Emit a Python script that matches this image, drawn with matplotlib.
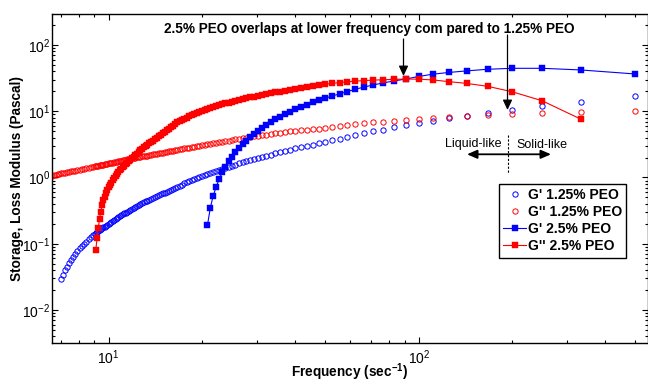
import matplotlib
matplotlib.use("Agg")
import matplotlib.pyplot as plt
from matplotlib.lines import Line2D
from matplotlib.patches import ArrowStyle

plt.rcParams['font.family'] = ['Liberation Sans', 'DejaVu Sans']
plt.rcParams['mathtext.fontset'] = 'custom'
plt.rcParams['mathtext.rm'] = 'Liberation Sans:bold'
plt.rcParams['mathtext.it'] = 'Liberation Sans:bold'
plt.rcParams['mathtext.bf'] = 'Liberation Sans:bold'
plt.rcParams['mathtext.default'] = 'bf'

# ---------------- data (frequency in 1/s, moduli in Pa) ----------------
freq = [500, 333.3, 250, 200, 166.7, 142.9, 125, 111.1, 100, 90.91,
        83.33, 76.92, 71.43, 66.67, 62.5, 58.82, 55.56, 52.63, 50, 47.62,
        45.45, 43.48, 41.67, 40, 38.46, 37.04, 35.71, 34.48, 33.33, 32.26,
        31.25, 30.3, 29.41, 28.57, 27.78, 27.03, 26.32, 25.64, 25, 24.39,
        23.81, 23.26, 22.73, 22.22, 21.74, 21.28, 20.83, 20.41, 20, 19.61,
        19.23, 18.87, 18.52, 18.18, 17.86, 17.54, 17.24, 16.95, 16.67,
        16.39, 16.13, 15.87, 15.63, 15.38, 15.15, 14.93, 14.71, 14.49, 14.29,
        14.08, 13.89, 13.70, 13.51, 13.33, 13.16, 12.99, 12.82, 12.66, 12.5,
        12.35, 12.2, 12.05, 11.9, 11.76, 11.63, 11.49, 11.36, 11.24, 11.11,
        10.99, 10.87, 10.75, 10.64, 10.53, 10.42, 10.31, 10.2, 10.10,
        10, 9.901, 9.804, 9.709, 9.615, 9.524, 9.434, 9.346, 9.259, 9.174,
        9.091, 9.009, 8.929,
        8.772, 8.621, 8.475, 8.333, 8.197, 8.065, 7.937, 7.813, 7.692, 7.576,
        7.463, 7.353, 7.246, 7.143, 7.042, 6.944, 6.849, 6.757, 6.667, 6.579,
        6.494]

# G' 1.25% PEO  (starts at freq[0])
g_store_125 = [17.0, 13.9, 11.8, 10.4, 9.35, 8.55, 7.8, 7.15, 6.6, 6.12,
               5.7, 5.3, 4.95, 4.63, 4.35, 4.08, 3.85, 3.64, 3.45, 3.28,
               3.13, 2.99, 2.87, 2.75, 2.63, 2.51, 2.41, 2.31, 2.22, 2.13,
               2.05, 1.97, 1.90, 1.83, 1.76, 1.70, 1.63, 1.57, 1.51, 1.46,
               1.41, 1.36, 1.31, 1.26, 1.22, 1.18, 1.13, 1.09, 1.05, 1.01,
               0.976, 0.943, 0.91, 0.877, 0.844, 0.812, 0.782, 0.755, 0.728,
               0.703, 0.678, 0.656, 0.634, 0.613, 0.593, 0.574, 0.556, 0.538, 0.521,
               0.505, 0.49, 0.475, 0.461, 0.448, 0.435, 0.422, 0.41, 0.396, 0.383,
               0.371, 0.359, 0.347, 0.336, 0.325, 0.315, 0.305, 0.296, 0.287, 0.279,
               0.269, 0.26, 0.252, 0.244, 0.236, 0.228, 0.221, 0.214, 0.207,
               0.20, 0.194, 0.187, 0.181, 0.176, 0.170, 0.165, 0.160, 0.155, 0.150,
               0.146, 0.140, 0.135,
               0.125, 0.117, 0.108, 0.100, 0.092, 0.085, 0.078, 0.071, 0.0635,
               0.0569, 0.0509, 0.045, 0.0398, 0.034, 0.0291]

# G'' 1.25% PEO  (starts at freq[0])
g_loss_125 = [10.2, 9.85, 9.5, 9.15, 8.85, 8.55, 8.25, 7.95, 7.7, 7.45,
              7.22, 7.0, 6.8, 6.6, 6.4, 6.2, 6.0, 5.8, 5.6, 5.47,
              5.35, 5.24, 5.14, 5.04, 4.95, 4.84, 4.73, 4.63, 4.53, 4.44,
              4.35, 4.27, 4.19, 4.09, 4.0, 3.91, 3.83, 3.75, 3.67, 3.6,
              3.53, 3.47, 3.4, 3.34, 3.28, 3.22, 3.17, 3.12, 3.07, 3.02,
              2.97, 2.92, 2.87, 2.82, 2.78, 2.74, 2.69, 2.65, 2.62,
              2.58, 2.54, 2.5, 2.47, 2.43, 2.4, 2.37, 2.34, 2.31, 2.28,
              2.25, 2.23, 2.2, 2.17, 2.14, 2.12, 2.1, 2.08, 2.05, 2.03,
              2.01, 1.99, 1.96, 1.94, 1.92, 1.90, 1.87, 1.85, 1.83, 1.81,
              1.79, 1.77, 1.75, 1.74, 1.72, 1.70, 1.68, 1.66, 1.65,
              1.63, 1.61, 1.60, 1.58, 1.57, 1.55, 1.54, 1.52, 1.51, 1.50,
              1.48, 1.47, 1.46,
              1.43, 1.41, 1.38, 1.36, 1.34, 1.32, 1.29, 1.27, 1.25, 1.24,
              1.22, 1.20, 1.18, 1.16, 1.15, 1.13, 1.12, 1.10, 1.09, 1.07,
              1.06]

# G' 2.5% PEO  (starts at freq[0])
g_store_25 = [36.5, 42.0, 44.5, 44.5, 43.0, 40.7, 38.5, 36.3, 33.5, 30.7,
              28.7, 26.8, 25.0, 23.2, 21.5, 19.8, 18.3, 17.0, 15.7, 14.6,
              13.6, 12.6, 11.7, 10.8, 9.9, 9.1, 8.3, 7.6, 6.9, 6.2,
              5.6, 5.0, 4.5, 4.05, 3.6, 3.2, 2.8, 2.4, 2.05, 1.75,
              1.45, 1.2, 0.95, 0.72, 0.53, 0.35, 0.19]

# G'' 2.5% PEO  (starts at freq[1])
g_loss_25 = [7.6, 14.4, 19.7, 23.8, 26.3, 28.0, 29.7, 30.5, 30.6, 30.3,
             29.9, 29.5, 29.0, 28.5, 27.8, 27.1, 26.35, 25.6, 24.8, 24.0,
             23.2, 22.45, 21.75, 21.1, 20.5, 19.85, 19.2, 18.6, 18.1, 17.55,
             17.1, 16.6, 16.2, 15.7, 15.2, 14.8, 14.35, 13.9, 13.5, 13.1,
             12.7, 12.3, 11.95, 11.6, 11.2, 10.85, 10.45, 10.1, 9.71, 9.34,
             9.0, 8.67, 8.36, 8.04, 7.69, 7.36, 7.06, 6.78,
             6.4, 6.04, 5.73, 5.43, 5.15, 4.88, 4.63, 4.4, 4.18, 3.97,
             3.78, 3.59, 3.44, 3.3, 3.14, 2.99, 2.84, 2.70, 2.56, 2.42,
             2.3, 2.18, 2.06, 1.95, 1.85, 1.76, 1.67, 1.59, 1.51, 1.44,
             1.36, 1.28, 1.2, 1.13, 1.06, 0.99, 0.91, 0.84, 0.78,
             0.72, 0.647, 0.58, 0.516, 0.46, 0.38, 0.30, 0.24, 0.17, 0.12,
             0.08]

labels = ["G' 1.25% PEO", "G'' 1.25% PEO", "G' 2.5% PEO", "G'' 2.5% PEO"]
annotation = "2.5% PEO overlaps at lower frequency com pared to 1.25% PEO"

# ---------------- figure ----------------
W, H = 648, 383
fig = plt.figure(figsize=(W / 100, H / 100), dpi=100)
ax = fig.add_axes([52.3 / W, 1 - 343.3 / H, (647.5 - 52.3) / W, (343.3 - 14) / H])

BLUE = '#0000ff'
RED = '#ff0000'

ax.plot(freq[:len(g_store_125)], g_store_125, linestyle='none', marker='o',
        ms=3.8, mfc='none', mec=BLUE, mew=0.7, label=labels[0])
ax.plot(freq[:len(g_loss_125)], g_loss_125, linestyle='none', marker='o',
        ms=3.8, mfc='none', mec=RED, mew=0.7, label=labels[1])
ax.plot(freq[:len(g_store_25)], g_store_25, color=BLUE, lw=0.8, marker='s',
        ms=3.9, mfc=BLUE, mec=BLUE, mew=0.3, label=labels[2])
ax.plot(freq[1:1 + len(g_loss_25)], g_loss_25, color=RED, lw=0.8, marker='s',
        ms=3.9, mfc=RED, mec=RED, mew=0.3, label=labels[3])

ax.set_xscale('log')
ax.set_yscale('log')
ax.set_xlim(10 ** 0.8184, 10 ** 2.7377)
ax.set_ylim(10 ** -2.503, 10 ** 2.468)

for sp in ax.spines.values():
    sp.set_linewidth(1.0)
ax.tick_params(which='both', direction='in', top=True, right=True, width=0.8,
               labelsize=10)
ax.tick_params(which='major', length=4.5)
ax.tick_params(which='minor', length=2.5)
ax.tick_params(axis='y', which='major', pad=1.5)
ax.tick_params(axis='x', which='major', pad=4)

fig.text(17 / W, 1 - 179 / H, 'Storage, Loss Modulus (Pascal)', rotation=90,
         ha='center', va='center', fontsize=9.8, fontweight='bold')
fig.text(349.5 / W, 1 - 377 / H, 'Frequency (sec$^{-1}$)', ha='center',
         va='baseline', fontsize=9.8, fontweight='bold')

fig.text(369 / W, 1 - 33.5 / H, annotation, ha='center', va='baseline',
         fontsize=9.8, fontweight='bold')

head = ArrowStyle('-|>', head_length=6, head_width=2.8)
for x, y0, y1 in [(403.5, 39, 76), (507.5, 35, 110)]:
    ax.annotate('', xy=(x / W, 1 - y1 / H), xycoords='figure fraction',
                xytext=(x / W, 1 - y0 / H), textcoords='figure fraction',
                arrowprops=dict(arrowstyle=head, color='black', lw=0.9,
                                shrinkA=0, shrinkB=0, mutation_scale=1))

fig.add_artist(Line2D([507.7 / W, 507.7 / W], [1 - 135 / H, 1 - 173 / H],
                      transform=fig.transFigure, color='black', lw=0.8,
                      linestyle=(0, (2, 1.5))))
fig.text(502 / W, 1 - 147.5 / H, 'Liquid-like', ha='right', va='baseline',
         fontsize=9)
fig.text(516 / W, 1 - 147.5 / H, 'Solid-like', ha='left', va='baseline',
         fontsize=9)
dbl = ArrowStyle('<|-|>', head_length=6, head_width=2.6)
ax.annotate('', xy=(551 / W, 1 - 154.3 / H), xycoords='figure fraction',
            xytext=(467 / W, 1 - 154.3 / H), textcoords='figure fraction',
            arrowprops=dict(arrowstyle=dbl, color='black', lw=1.3,
                            shrinkA=0, shrinkB=0, mutation_scale=1))

leg = ax.legend(loc='upper left', bbox_to_anchor=(499.3 / W, 1 - 184 / H),
                bbox_transform=fig.transFigure, borderaxespad=0,
                prop={'weight': 'bold', 'size': 10}, frameon=True,
                fancybox=False, framealpha=1, edgecolor='black',
                borderpad=0.3, labelspacing=0.22, handlelength=1.65,
                handletextpad=0.1, numpoints=1)
leg.get_frame().set_linewidth(1.0)

fig.savefig('out.png', dpi=100)
